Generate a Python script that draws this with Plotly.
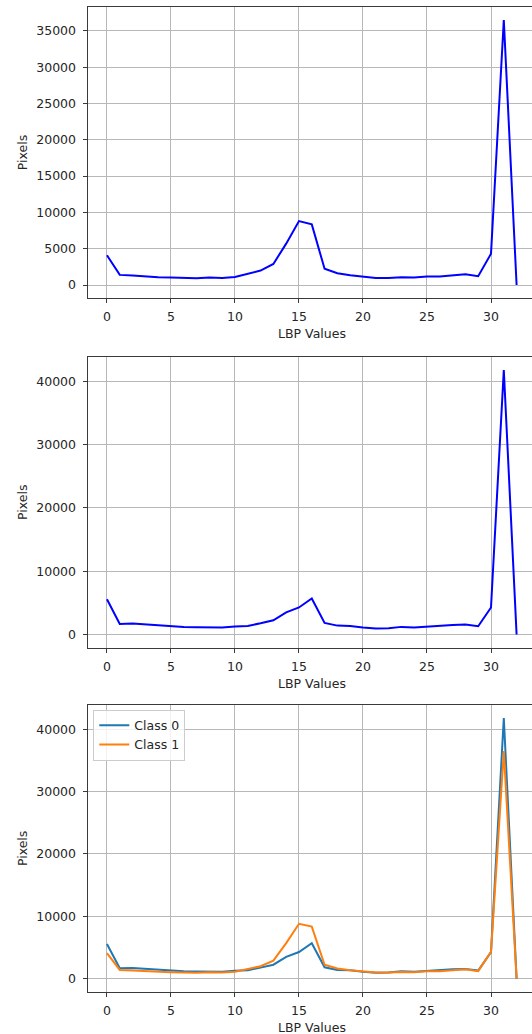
import plotly.graph_objects as go

# ---- data ----
lbp_values = list(range(33))
class1_pixels = [4100, 1400, 1300, 1170, 1070, 1030, 980, 930, 1030, 980, 1120, 1590,
                 2000, 2900, 5700, 8800, 8350, 2240, 1630, 1350, 1120, 980, 980, 1070,
                 1030, 1170, 1170, 1300, 1500, 1210, 4300, 36500, 0]
class0_pixels = [5570, 1670, 1720, 1560, 1400, 1300, 1200, 1150, 1150, 1100, 1250, 1350,
                 1770, 2240, 3490, 4270, 5680, 1820, 1400, 1350, 1100, 940, 990, 1200,
                 1100, 1250, 1460, 1510, 1560, 1300, 4270, 41800, 0]
series_names = ["Class 0", "Class 1"]
x_ticks = [0, 5, 10, 15, 20, 25, 30]
x_title = "LBP Values"
y_title = "Pixels"

W, H = 532, 1034
FONT = "DejaVu Sans"
TXT = "#262626"
GRID = "#b8b8b8"
SPINE = "#3a3a3a"

fig = go.Figure()

# Plot 1: class 1 in blue
fig.add_trace(go.Scatter(x=lbp_values, y=class1_pixels, mode="lines",
                         line=dict(color="#0000ff", width=2), showlegend=False,
                         xaxis="x", yaxis="y"))
# Plot 2: class 0 in blue
fig.add_trace(go.Scatter(x=lbp_values, y=class0_pixels, mode="lines",
                         line=dict(color="#0000ff", width=2), showlegend=False,
                         xaxis="x2", yaxis="y2"))
# Plot 3: both classes
fig.add_trace(go.Scatter(x=lbp_values, y=class0_pixels, mode="lines", name=series_names[0],
                         line=dict(color="#1f77b4", width=2), xaxis="x3", yaxis="y3"))
fig.add_trace(go.Scatter(x=lbp_values, y=class1_pixels, mode="lines", name=series_names[1],
                         line=dict(color="#ff7f0e", width=2), xaxis="x3", yaxis="y3"))

x_left = 87.5
x_dom = [x_left / W, 1.0]
axis_bottoms = [298.3, 647.7, 991.7]
axis_tops = [6.7, 356.7, 705.0]
y_doms = [[1 - b / H, 1 - t / H] for b, t in zip(axis_bottoms, axis_tops)]
y_ranges = [[-1825, 38325], [-2090, 43890], [-2090, 43890]]
y_dticks = [5000, 10000, 10000]

def xaxis_cfg(i):
    return dict(
        domain=x_dom, anchor="y" if i == 0 else f"y{i+1}",
        range=[-1.52, (W - 107) / 12.8],
        tickmode="array", tickvals=x_ticks,
        showgrid=True, gridcolor=GRID, gridwidth=1, zeroline=False,
        showline=True, linecolor=SPINE, linewidth=1, mirror=True,
        ticks="outside", ticklen=4, tickcolor=SPINE, tickwidth=1,
        ticklabelstandoff=3,
        tickfont=dict(family=FONT, size=12.5, color=TXT),
        automargin=False,
    )

def yaxis_cfg(i):
    return dict(
        domain=y_doms[i], anchor="x" if i == 0 else f"x{i+1}",
        range=y_ranges[i], dtick=y_dticks[i], tick0=0, tickformat="d",
        showgrid=True, gridcolor=GRID, gridwidth=1, zeroline=False,
        showline=True, linecolor=SPINE, linewidth=1, mirror=False,
        ticks="outside", ticklen=4, tickcolor=SPINE, tickwidth=1,
        ticklabelstandoff=4,
        tickfont=dict(family=FONT, size=12.5, color=TXT),
        title=dict(text=y_title, font=dict(family=FONT, size=12.5, color=TXT), standoff=5),
        automargin=False,
    )

annotations = []
for b in axis_bottoms:
    annotations.append(dict(
        text=x_title, xref="paper", yref="paper",
        x=(x_left + 536.0) / 2 / W, y=1 - (b + 35.5) / H,
        xanchor="center", yanchor="middle", showarrow=False,
        font=dict(family=FONT, size=12.5, color=TXT)))

layout = dict(
    width=W, height=H,
    margin=dict(l=0, r=0, t=0, b=0),
    paper_bgcolor="white", plot_bgcolor="white",
    font=dict(family=FONT, size=12.5, color=TXT),
    showlegend=True,
    legend=dict(x=93.3 / W, y=1 - 709.5 / H, xanchor="left", yanchor="top",
                bgcolor="rgba(255,255,255,0.8)", bordercolor="#cccccc", borderwidth=1,
                font=dict(family=FONT, size=12.5, color=TXT), tracegroupgap=0),
    annotations=annotations,
)
for i in range(3):
    layout["xaxis" if i == 0 else f"xaxis{i+1}"] = xaxis_cfg(i)
    layout["yaxis" if i == 0 else f"yaxis{i+1}"] = yaxis_cfg(i)

fig.update_layout(**layout)

fig.write_html("out.html", config={"displayModeBar": False},
               post_script="document.body.style.margin='0';document.body.style.overflow='hidden';")
